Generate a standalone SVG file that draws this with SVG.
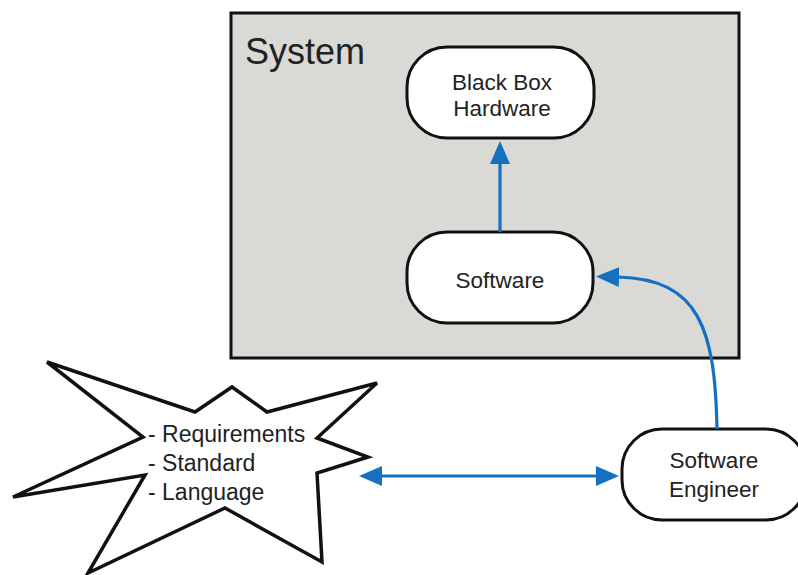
<svg xmlns="http://www.w3.org/2000/svg" width="798" height="575" viewBox="0 0 798 575">
<style>
.box{fill:#ffffff;stroke:#111111;stroke-width:3}
.lbl{font-family:"Liberation Sans",Arial,sans-serif;font-size:22.5px;fill:#222222;text-anchor:middle}
.star{font-family:"Liberation Sans",Arial,sans-serif;font-size:23px;fill:#222222}
.conn{fill:none;stroke:#1570c0;stroke-width:3.2}
</style>
<defs>
<marker id="ah" markerUnits="userSpaceOnUse" markerWidth="24" markerHeight="22" viewBox="0 0 24 22" refX="1" refY="11" orient="auto-start-reverse">
<path d="M0,1 L23,11 L0,21 z" fill="#1570c0"/>
</marker>
</defs>
<rect width="798" height="575" fill="#ffffff"/>
<g id="system">
<rect x="231" y="13" width="508" height="345" fill="#d9d9d5" stroke="#111111" stroke-width="3"/>
<text x="245" y="64" font-family="'Liberation Sans',Arial,sans-serif" font-size="36" fill="#222222">System</text>
</g>
<g id="black-box-hardware">
<rect class="box" x="407" y="47" width="187" height="91" rx="40" ry="40"/>
<text class="lbl" x="502" y="90">Black Box</text>
<text class="lbl" x="502" y="116">Hardware</text>
</g>
<g id="software">
<rect class="box" x="407" y="232" width="186" height="91" rx="40" ry="40"/>
<text class="lbl" x="500" y="288">Software</text>
</g>
<g id="software-engineer">
<rect class="box" x="622" y="429" width="184" height="91" rx="40" ry="40"/>
<text class="lbl" x="714" y="468">Software</text>
<text class="lbl" x="714" y="497">Engineer</text>
</g>
<g id="requirements">
<polygon points="47,362 195,412 232,387 267,412 377,383 317,438 368,457 317,473 322,562 225,508 88,573 145,475 13,497 143,437" fill="#ffffff" stroke="#111111" stroke-width="3.5" stroke-linejoin="miter"/>
<text class="star" x="148" y="442">- Requirements</text>
<text class="star" x="148" y="471">- Standard</text>
<text class="star" x="148" y="500">- Language</text>
</g>
<g id="connectors">
<path class="conn" d="M500,232 L500,163" marker-end="url(#ah)"/>
<path class="conn" d="M717,429 C715,330 700,279 618,277" marker-end="url(#ah)"/>
<path class="conn" d="M381,476 L597,476" marker-start="url(#ah)" marker-end="url(#ah)"/>
</g>
</svg>
